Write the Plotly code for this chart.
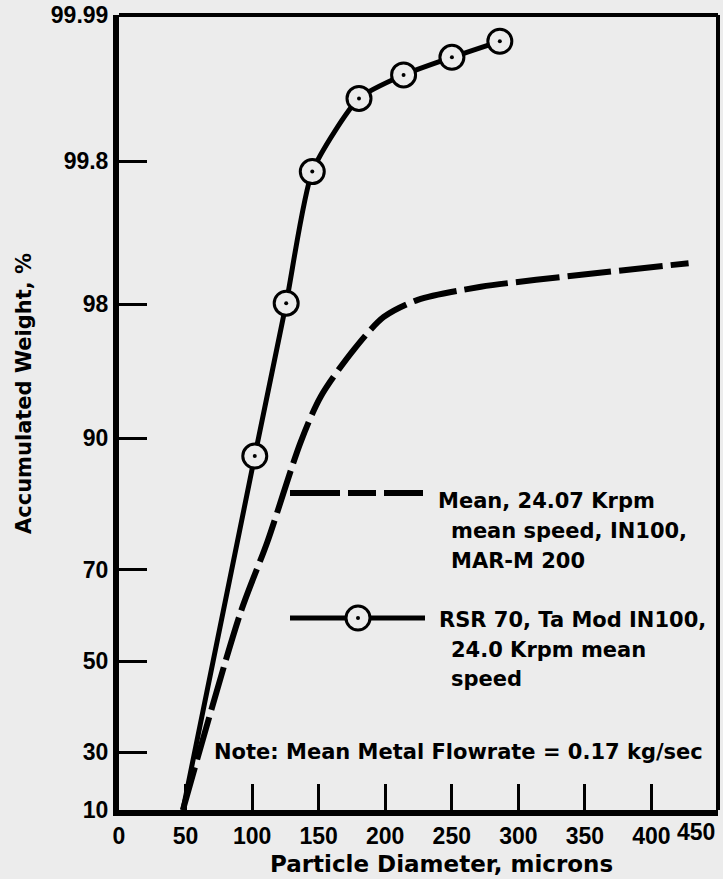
import numpy as np
import plotly.graph_objects as go
from statistics import NormalDist

# ---------------- data ----------------
TICK_PCT = [10, 30, 50, 70, 90, 98, 99.8, 99.99]
TICK_TEXT = ["10", "30", "50", "70", "90", "98", "99.8", "99.99"]
X_TICKS = [0, 50, 100, 150, 200, 250, 300, 350, 400, 450]
X_TICK_TEXT = ["0", "50", "100", "150", "200", "250", "300", "350", "400", ""]

# RSR 70, Ta Mod IN100, 24.0 Krpm mean speed (solid, circles)
RSR_DIAM = [48, 102, 125.6, 145.2, 180.3, 213.8, 250.1, 286.1]
RSR_WT = [10, 88.1, 98.03, 99.758, 99.940, 99.963, 99.9745, 99.982]

# Mean, 24.07 Krpm mean speed, IN100, MAR-M 200 (dashed)
MEAN_DIAM = [48, 91.2, 111.5, 136.4, 151.5, 176.3, 198.9, 224.5, 271.9, 313.4, 347.3, 427.9]
MEAN_WT = [10, 60.9, 75.4, 89.6, 93.6, 96.34, 97.62, 98.12, 98.44, 98.59, 98.69, 98.90]

# ---------------- probability-paper scale ----------------
ND = NormalDist()
Z10 = ND.inv_cdf(0.10)
Z30 = ND.inv_cdf(0.30)
LOW_SEGMENT = 0.333  # the 10-30 band of the paper is compressed


def u(p):
    z = ND.inv_cdf(p / 100.0)
    if z >= Z30:
        return z
    return Z30 - (Z30 - z) / (Z30 - Z10) * LOW_SEGMENT


def uu(ps):
    return [u(p) for p in ps]


W, H = 723, 879
ML, MR, MT, MB = 119, 5, 15, 69
PW, PH = W - ML - MR, H - MT - MB


def px(xp):
    return (xp - ML) / PW


def py(yp):
    return (H - MB - yp) / PH


BG = "#ececec"
TXT = dict(family="DejaVu Sans", size=21, color="black", weight="bold")
TICKF = dict(family="Liberation Sans", size=23, color="black", weight="bold")

fig = go.Figure()

fig.add_trace(go.Scatter(
    x=MEAN_DIAM, y=uu(MEAN_WT), mode="lines",
    line=dict(color="black", width=6, dash="44px,8px", shape="spline", smoothing=0.8),
    showlegend=False, hoverinfo="skip"))

fig.add_trace(go.Scatter(
    x=RSR_DIAM, y=uu(RSR_WT), mode="lines",
    line=dict(color="black", width=5, shape="spline", smoothing=0.6),
    showlegend=False, hoverinfo="skip"))

fig.add_trace(go.Scatter(
    x=RSR_DIAM[1:], y=uu(RSR_WT[1:]), mode="markers",
    marker=dict(symbol="circle", size=24, color=BG, line=dict(color="black", width=3)),
    showlegend=False, hoverinfo="skip"))

fig.add_trace(go.Scatter(
    x=RSR_DIAM[1:], y=uu(RSR_WT[1:]), mode="markers",
    marker=dict(symbol="circle", size=4, color="black"),
    showlegend=False, hoverinfo="skip"))

shapes = [
    # top and right frame
    dict(type="line", xref="paper", yref="paper", x0=0, x1=1, y0=1, y1=1,
         line=dict(color="black", width=4)),
    dict(type="line", xref="paper", yref="paper", x0=1, x1=1, y0=0, y1=1,
         line=dict(color="black", width=4)),
    # legend samples
    dict(type="line", xref="paper", yref="paper", x0=px(290), x1=px(423), y0=py(493), y1=py(493),
         line=dict(color="black", width=6, dash="50px,8px,28px,8px")),
    dict(type="line", xref="paper", yref="paper", x0=px(290), x1=px(425), y0=py(618), y1=py(618),
         line=dict(color="black", width=5)),
    dict(type="circle", xref="paper", yref="paper", xsizemode="pixel", ysizemode="pixel",
         xanchor=px(358), yanchor=py(618), x0=-12, x1=12, y0=-12, y1=12,
         fillcolor=BG, line=dict(color="black", width=3)),
    dict(type="circle", xref="paper", yref="paper", xsizemode="pixel", ysizemode="pixel",
         xanchor=px(358), yanchor=py(618), x0=-2, x1=2, y0=-2, y1=2,
         fillcolor="black", line=dict(color="black", width=0)),
]

def ann(text, x, y, xanchor="left", font=TXT, angle=0):
    return dict(text=text, x=px(x), y=py(y), xref="paper", yref="paper",
                xanchor=xanchor, yanchor="middle", showarrow=False, font=font,
                textangle=angle)

annotations = [
    ann("Mean, 24.07 Krpm", 436, 501),
    ann("mean speed, IN100,", 449, 531),
    ann("MAR-M 200", 449, 561),
    ann("RSR 70, Ta Mod IN100,", 437, 620),
    ann("24.0 Krpm mean", 449, 650),
    ann("speed", 449, 679),
    ann("Note: Mean Metal Flowrate = 0.17 kg/sec", 212, 752),
    ann("450", 717, 832, xanchor="right", font=TICKF),
    ann("Particle Diameter, microns", 441, 864, xanchor="center",
        font=dict(family="DejaVu Sans", size=23, color="black", weight="bold")),
    ann("Accumulated Weight, %", 24, 394, xanchor="center", angle=-90),
]

fig.update_layout(
    width=W, height=H,
    margin=dict(l=ML, r=MR, t=MT, b=MB, autoexpand=False),
    paper_bgcolor=BG, plot_bgcolor=BG,
    shapes=shapes, annotations=annotations,
    xaxis=dict(range=[0, 450], tickvals=X_TICKS, ticktext=X_TICK_TEXT,
               ticks="inside", ticklen=26, tickwidth=3, tickcolor="black",
               showline=True, linewidth=6, linecolor="black", automargin=False,
               showgrid=False, zeroline=False, tickfont=TICKF),
    yaxis=dict(range=[u(10), u(99.99)], tickvals=uu(TICK_PCT), ticktext=TICK_TEXT,
               ticks="inside", ticklen=28, tickwidth=3, tickcolor="black",
               showline=True, linewidth=6, linecolor="black", automargin=False,
               showgrid=False, zeroline=False, tickfont=TICKF),
)

fig.write_html(
    "out.html",
    config={"displayModeBar": False},
    post_script="document.body.style.margin='0';document.body.style.overflow='hidden';"
                "document.body.style.background='" + BG + "';",
)
